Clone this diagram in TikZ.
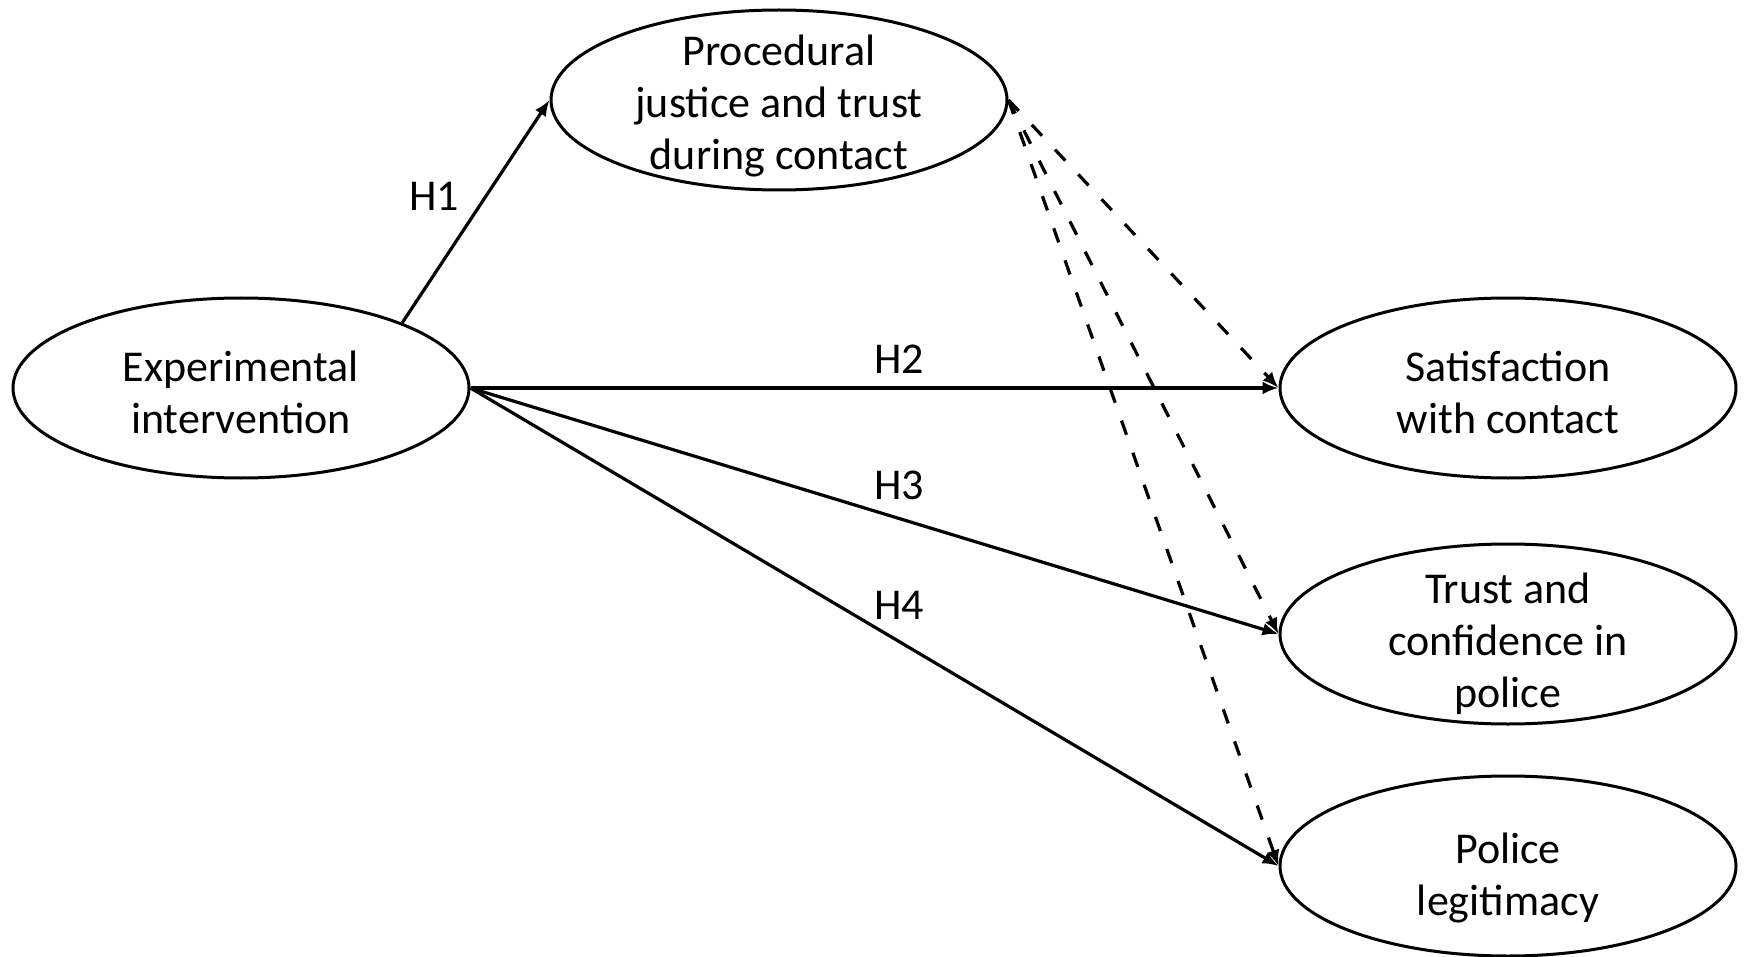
\documentclass[tikz,border=0pt]{standalone}
\usepackage{fontspec}
\setmainfont{Carlito}
\usetikzlibrary{shapes.geometric,arrows.meta}
\begin{document}
\begin{tikzpicture}[x=0.5pt,y=-0.5pt,
  ell/.style={ellipse,draw,line width=1.5pt,minimum width=456*0.5pt,minimum height=180*0.5pt,inner sep=0pt},
  txt/.style={align=center,font=\fontsize{22}{26}\selectfont,inner sep=0pt},
  lab/.style={font=\fontsize{22}{26}\selectfont,inner sep=0pt},
  conn/.style={line width=1.6pt,-{Latex[length=8pt,width=6.5pt]}},
  dconn/.style={conn,dash pattern=on 7.5pt off 9.5pt}]
\useasboundingbox (0,0) rectangle (1745,957);
\node[ell] (exp) at (241,388) {};
\node[txt] (expt) at (241,392) {Experimental\\intervention};
\node[ell] (proc) at (779,100) {};
\node[txt] (proct) at (779,106) {Procedural\\justice and trust\\during contact};
\node[ell] (sat) at (1508,388) {};
\node[txt] (satt) at (1508,392) {Satisfaction\\with contact};
\node[ell] (tru) at (1508,634) {};
\node[txt] (trut) at (1508,644) {Trust and\\confidence in\\police};
\node[ell] (pol) at (1508,866) {};
\node[txt] (polt) at (1508,878) {Police\\legitimacy};
\draw[conn] (exp.22) -- (proc.west);
\draw[conn] (exp.east) -- (sat.west);
\draw[conn] (exp.east) -- (tru.west);
\draw[conn] (exp.east) -- (pol.west);
\draw[dconn] (proc.east) -- (sat.west);
\draw[dconn] (proc.east) -- (tru.west);
\draw[dconn] (proc.east) -- (pol.west);
\node[lab] (h1) at (434,196) {H1};
\node[lab] (h2) at (899,359) {H2};
\node[lab] (h3) at (899,485) {H3};
\node[lab] (h4) at (899,605) {H4};
\end{tikzpicture}
\end{document}
